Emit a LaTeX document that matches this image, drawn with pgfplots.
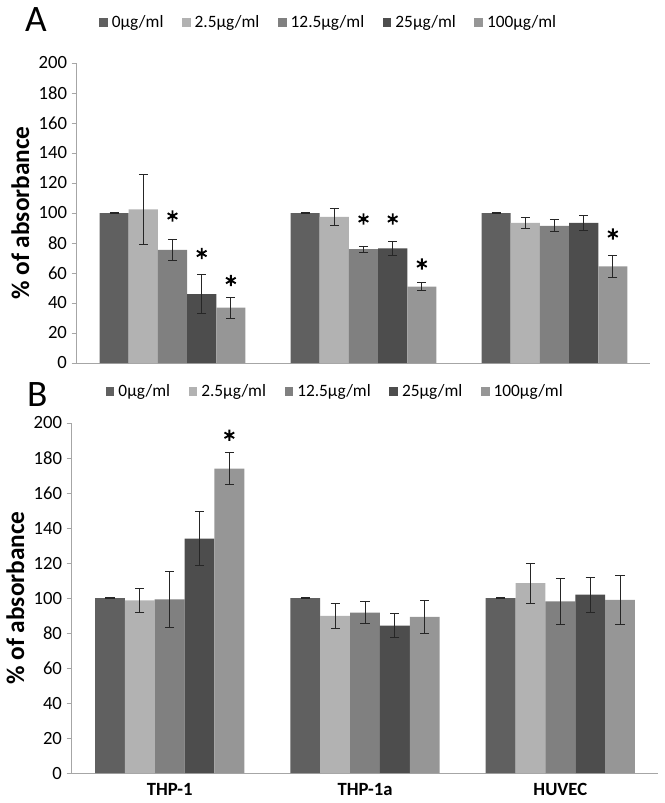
\documentclass[border=0pt]{standalone}
\usepackage{fontspec}
\setmainfont{Carlito}
\usepackage{pgfplots}
\pgfplotsset{compat=1.18}
\definecolor{c0}{HTML}{606060}
\definecolor{c1}{HTML}{B2B2B2}
\definecolor{c2}{HTML}{808080}
\definecolor{c3}{HTML}{4D4D4D}
\definecolor{c4}{HTML}{969696}
\definecolor{axgray}{HTML}{A6A6A6}
\pgfplotsset{
  panel/.style={
    scale only axis, xmin=-0.5, xmax=2.5, ymin=0, ymax=200,
    ytick={0,20,...,200}, xtick={0,1,2},
    axis x line*=bottom, axis y line*=left,
    axis line style={draw=axgray, line width=0.75pt, -},
    major x tick style={draw=none},
    major y tick style={draw=axgray, line width=0.75pt},
    major tick length=4pt, tick align=outside,
    tick label style={font=\fontsize{14}{16}\selectfont},
    /pgf/number format/assume math mode=true,
    ylabel={\% of absorbance},
    ylabel style={font=\bfseries\fontsize{19}{22}\selectfont},
    legend columns=5,
    legend style={draw=none, fill=none, font=\fontsize{13}{15}\selectfont,
      /tikz/every even column/.append style={column sep=12pt},
      /tikz/every odd column/.append style={column sep=1pt}},
  },
  bars/.style={ybar, bar width=0.1528, bar shift=0, draw=none, fill=#1,
    legend image code/.code={\path[fill=#1] (0pt,-3.2pt) rectangle (6.4pt,3.2pt);},
    error bars/.cd, y dir=both, y explicit,
    error bar style={line width=0.75pt, color=black!85},
    error mark options={rotate=90, mark size=3.4pt, line width=0.75pt, color=black!85}},
  stars/.style={only marks, mark=asterisk, mark size=4.2pt,
    mark options={line width=1.4pt, black}, forget plot},
}
\begin{document}
\begin{tikzpicture}
\useasboundingbox (0,0) rectangle (498pt,-602.25pt);
\node[font=\fontsize{28}{30}\selectfont] at (27pt,-15pt) {A};
\node[font=\fontsize{28}{30}\selectfont] at (28pt,-296pt) {B};
% Panel A
\begin{axis}[panel, at={(57.75pt,-272.25pt)}, anchor=south west,
  width=429.75pt, height=225pt, xticklabels={},
  legend style={at={(0.44,1.135)}, anchor=center}]
\addplot[bars=c0] coordinates {(-0.3056,100) +- (0,0.4) (0.6944,100) +- (0,0.3) (1.6944,100) +- (0,0.3)};
\addlegendentry{0µg/ml}
\addplot[bars=c1] coordinates {(-0.1528,102.5) +- (0,23.5) (0.8472,97.5) +- (0,5.5) (1.8472,93.5) +- (0,3.5)};
\addlegendentry{2.5µg/ml}
\addplot[bars=c2] coordinates {(0,75.5) +- (0,7) (1,76) +- (0,2) (2,91.5) +- (0,4)};
\addlegendentry{12.5µg/ml}
\addplot[bars=c3] coordinates {(0.1528,46) +- (0,13) (1.1528,76.5) +- (0,4.8) (2.1528,93.5) +- (0,5)};
\addlegendentry{25µg/ml}
\addplot[bars=c4] coordinates {(0.3056,37) +- (0,7) (1.3056,51) +- (0,2.5) (2.3056,64.5) +- (0,7.5)};
\addlegendentry{100µg/ml}
\addplot[stars] coordinates {(0,98) (0.1528,73) (0.3056,55) (1,96) (1.1528,96) (1.3056,66) (2.3056,86)};
\end{axis}
% Panel B
\begin{axis}[panel, at={(54pt,-579.75pt)}, anchor=south west,
  width=439.5pt, height=262.5pt,
  xticklabels={THP-1,THP-1a,HUVEC},
  xticklabel style={font=\bfseries\fontsize{14}{16}\selectfont},
  legend style={at={(0.45,1.09)}, anchor=center}]
\addplot[bars=c0] coordinates {(-0.3056,100) +- (0,0.3) (0.6944,100) +- (0,0.3) (1.6944,100) +- (0,0.3)};
\addlegendentry{0µg/ml}
\addplot[bars=c1] coordinates {(-0.1528,98.7) +- (0,7) (0.8472,89.8) +- (0,7) (1.8472,108.5) +- (0,11.5)};
\addlegendentry{2.5µg/ml}
\addplot[bars=c2] coordinates {(0,99.2) +- (0,16) (1,91.7) +- (0,6.5) (2,98.1) +- (0,13)};
\addlegendentry{12.5µg/ml}
\addplot[bars=c3] coordinates {(0.1528,134) +- (0,15.5) (1.1528,84.2) +- (0,7) (2.1528,102) +- (0,10)};
\addlegendentry{25µg/ml}
\addplot[bars=c4] coordinates {(0.3056,174) +- (0,9.3) (1.3056,89.2) +- (0,9.5) (2.3056,99) +- (0,14)};
\addlegendentry{100µg/ml}
\addplot[stars] coordinates {(0.3056,193)};
\end{axis}
\end{tikzpicture}
\end{document}
